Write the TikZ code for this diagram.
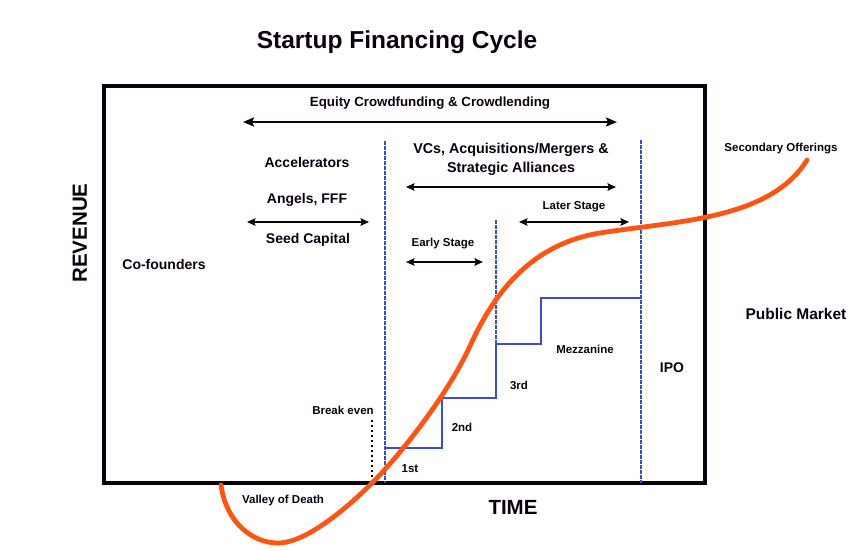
\documentclass[tikz,border=0pt]{standalone}
\usepackage{fontspec}
\setmainfont{Liberation Sans}
\usetikzlibrary{arrows.meta}
\definecolor{stepblue}{RGB}{58,78,205}
\definecolor{curveorange}{RGB}{255,85,20}
\definecolor{ink}{RGB}{10,0,16}
\tikzset{
  lbl/.style={inner sep=0pt, text=ink, font=\fontsize{14}{19}\selectfont\bfseries, align=center},
  smalllbl/.style={inner sep=0pt, text=ink, font=\fontsize{11.5}{14}\selectfont\bfseries},
  axislbl/.style={inner sep=0pt, text=ink, font=\fontsize{20.5}{24}\selectfont\bfseries},
  spanarrow/.style={draw=ink, line width=2.8pt, {Stealth[length=11pt,width=9pt,inset=2pt]}-{Stealth[length=11pt,width=9pt,inset=2pt]}},
  thinarrow/.style={draw=ink, line width=2.2pt, {Stealth[length=8.5pt,width=7.5pt,inset=1.5pt]}-{Stealth[length=8.5pt,width=7.5pt,inset=1.5pt]}},
  stageline/.style={draw=stepblue, line width=2.6pt, dash pattern=on 4pt off 1pt},
  stepline/.style={draw=stepblue, line width=2.8pt},
}
\begin{document}
\begin{tikzpicture}[x=1pt,y=-1pt]
\useasboundingbox (0,0) rectangle (858,550);
\fill[white] (0,0) rectangle (858,550);

% title
\node[inner sep=0pt, text=ink, font=\fontsize{24.5}{28}\selectfont\bfseries] (title) at (397,42) {Startup Financing Cycle};

% frame
\coordinate (tl) at (104,86);
\coordinate (br) at (705,483);
\draw[ink, line width=3.2pt] (tl) rectangle (br);

% axis labels
\node[axislbl, rotate=90] (rev) at (80,233) {REVENUE};
\node[axislbl] (time) at (513,507) {TIME};

% vertical stage lines
\coordinate (v1t) at (385,141); \coordinate (v1b) at (385,483);
\coordinate (v2t) at (496,220); \coordinate (v2b) at (496,344);
\coordinate (v3t) at (641,140); \coordinate (v3b) at (641,483);
\draw[stageline] (v1t) -- (v1b);
\draw[stageline] (v2t) -- (v2b);
\draw[stageline] (v3t) -- (v3b);

% steps
\coordinate (s0) at (385,448);
\coordinate (s1) at (442,448);
\coordinate (s2) at (442,398);
\coordinate (s3) at (496,398);
\coordinate (s4) at (496,344);
\coordinate (s5) at (541,344);
\coordinate (s6) at (541,298);
\coordinate (s7) at (641,298);
\draw[stepline, line join=miter] (s0) -- (s1) -- (s2) -- (s3) -- (s4) -- (s5) -- (s6) -- (s7);

% break even
\coordinate (bet) at (372,420); \coordinate (beb) at (372,483);
\draw[ink, line width=2pt, dash pattern=on 2pt off 3pt] (bet) -- (beb);

% span arrows
\coordinate (eqL) at (243,122); \coordinate (eqR) at (617,122);
\draw[spanarrow] (eqL) -- (eqR);
\coordinate (seL) at (247,222); \coordinate (seR) at (369,222);
\draw[thinarrow] (seL) -- (seR);
\coordinate (vcL) at (406,187); \coordinate (vcR) at (616,187);
\draw[thinarrow] (vcL) -- (vcR);
\coordinate (esL) at (406,262); \coordinate (esR) at (483,262);
\draw[thinarrow, line width=1.9pt] (esL) -- (esR);
\coordinate (lsL) at (519,222); \coordinate (lsR) at (629,222);
\draw[thinarrow, line width=1.9pt] (lsL) -- (lsR);

% labels
\node[lbl, font=\fontsize{13.3}{19}\selectfont\bfseries] (equity) at (430,103) {Equity Crowdfunding \& Crowdlending};
\node[lbl] (acc) at (307,162) {Accelerators};
\node[lbl] (ang) at (307,200) {Angels, FFF};
\node[lbl] (seed) at (308,240) {Seed Capital};
\node[lbl] (cof) at (164,264) {Co-founders};
\node[lbl, font=\fontsize{14.3}{19}\selectfont\bfseries] (vcs) at (511,159.5) {VCs, Acquisitions/Mergers \&\\Strategic Alliances};
\node[smalllbl] (later) at (574,207) {Later Stage};
\node[smalllbl] (early) at (443,244) {Early Stage};
\node[smalllbl] (second) at (781,149) {Secondary Offerings};
\node[lbl, font=\fontsize{15.5}{19}\selectfont\bfseries] (pub) at (796,314) {Public Market};
\node[lbl] (ipo) at (672,368) {IPO};
\node[smalllbl] (mezz) at (585,349) {Mezzanine};
\node[smalllbl] (third) at (519,385) {3rd};
\node[smalllbl] (secnd) at (462,427) {2nd};
\node[smalllbl] (first) at (410,469) {1st};
\node[smalllbl] (be) at (343,410) {Break even};
\node[smalllbl] (vod) at (283,501) {Valley of Death};

% curve
\coordinate (c0) at (221,485);
\coordinate (c1) at (278,543);
\coordinate (c2) at (372,483);
\coordinate (c3) at (470,346);
\coordinate (c4) at (600,233);
\coordinate (c5) at (807,160);
\draw[curveorange, line width=4.8pt, line cap=round]
  (c0) .. controls (226,522) and (252,543) .. (c1)
       .. controls (305,543) and (345,510) .. (c2)
       .. controls (405,450) and (450,390) .. (c3)
       .. controls (490,302) and (525,245) .. (c4)
       .. controls (675,221) and (770,220) .. (c5);
\end{tikzpicture}
\end{document}
